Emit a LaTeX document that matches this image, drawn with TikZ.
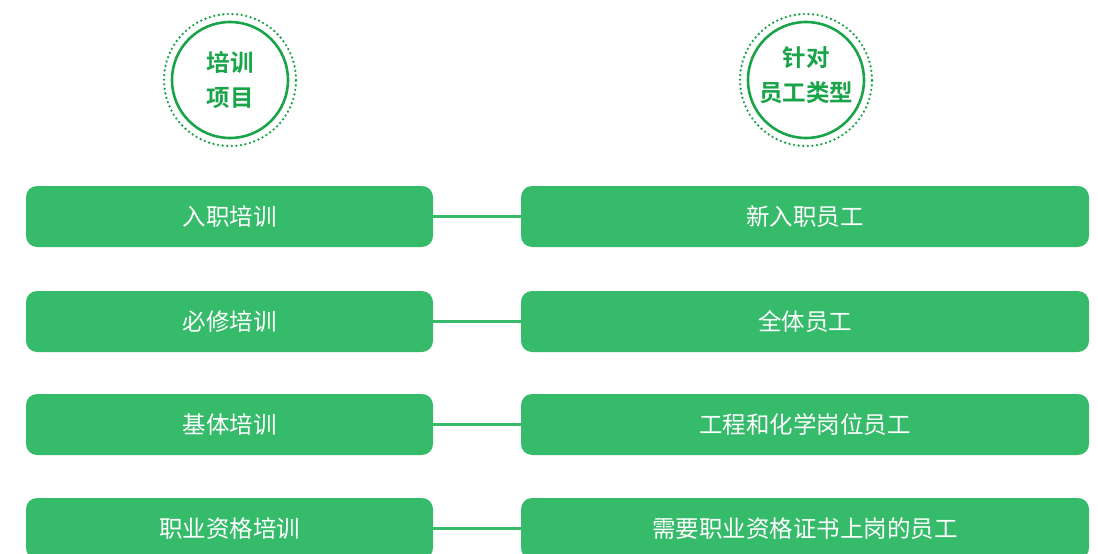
\documentclass[tikz,border=0pt]{standalone}
\usepackage{fontspec}
\setmainfont{Noto Sans CJK SC}
\newfontfamily\cjkbold{Noto Sans CJK SC Bold}
\usepackage{tikz}
\definecolor{boxgreen}{RGB}{54,187,107}
\definecolor{ringgreen}{RGB}{26,164,74}
\tikzset{
  itembox/.style={draw=none, fill=boxgreen, rounded corners=11pt,
    minimum height=61pt, text=white, font=\fontsize{23.5}{26}\selectfont},
  leftbox/.style={itembox, minimum width=407pt},
  rightbox/.style={itembox, minimum width=568pt},
  link/.style={boxgreen, line width=2.5pt},
  ring/.style={circle, draw=ringgreen, line width=2.6pt, minimum size=116pt},
  dotring/.style={circle, draw=ringgreen, line width=2.6pt, line cap=round,
    dash pattern=on 0pt off 4.6pt, minimum size=132pt},
  ringtext/.style={text=ringgreen, align=center,
    font=\cjkbold\fontsize{23.5}{35}\selectfont}
}
\begin{document}
\begin{tikzpicture}[x=1pt,y=-1pt]
\useasboundingbox (0,0) rectangle (1098,554);
% header circles
\node[dotring] (ringA) at (230,80) {};
\node[ring] (innerA) at (ringA.center) {};
\node[ringtext] (headA) at (230,80) {培训\\项目};
\node[dotring] (ringB) at (806,80) {};
\node[ring] (innerB) at (ringB.center) {};
\node[ringtext] (headB) at (806,75) {针对\\员工类型};
% rows
\node[leftbox] (train1) at (229.5,216.5) {入职培训};
\node[rightbox] (staff1) at (805,216.5) {新入职员工};
\node[leftbox] (train2) at (229.5,321.5) {必修培训};
\node[rightbox] (staff2) at (805,321.5) {全体员工};
\node[leftbox] (train3) at (229.5,424.5) {基体培训};
\node[rightbox] (staff3) at (805,424.5) {工程和化学岗位员工};
\node[leftbox] (train4) at (229.5,528.5) {职业资格培训};
\node[rightbox] (staff4) at (805,528.5) {需要职业资格证书上岗的员工};
\draw[link] (train1) -- (staff1);
\draw[link] (train2) -- (staff2);
\draw[link] (train3) -- (staff3);
\draw[link] (train4) -- (staff4);
\end{tikzpicture}
\end{document}
